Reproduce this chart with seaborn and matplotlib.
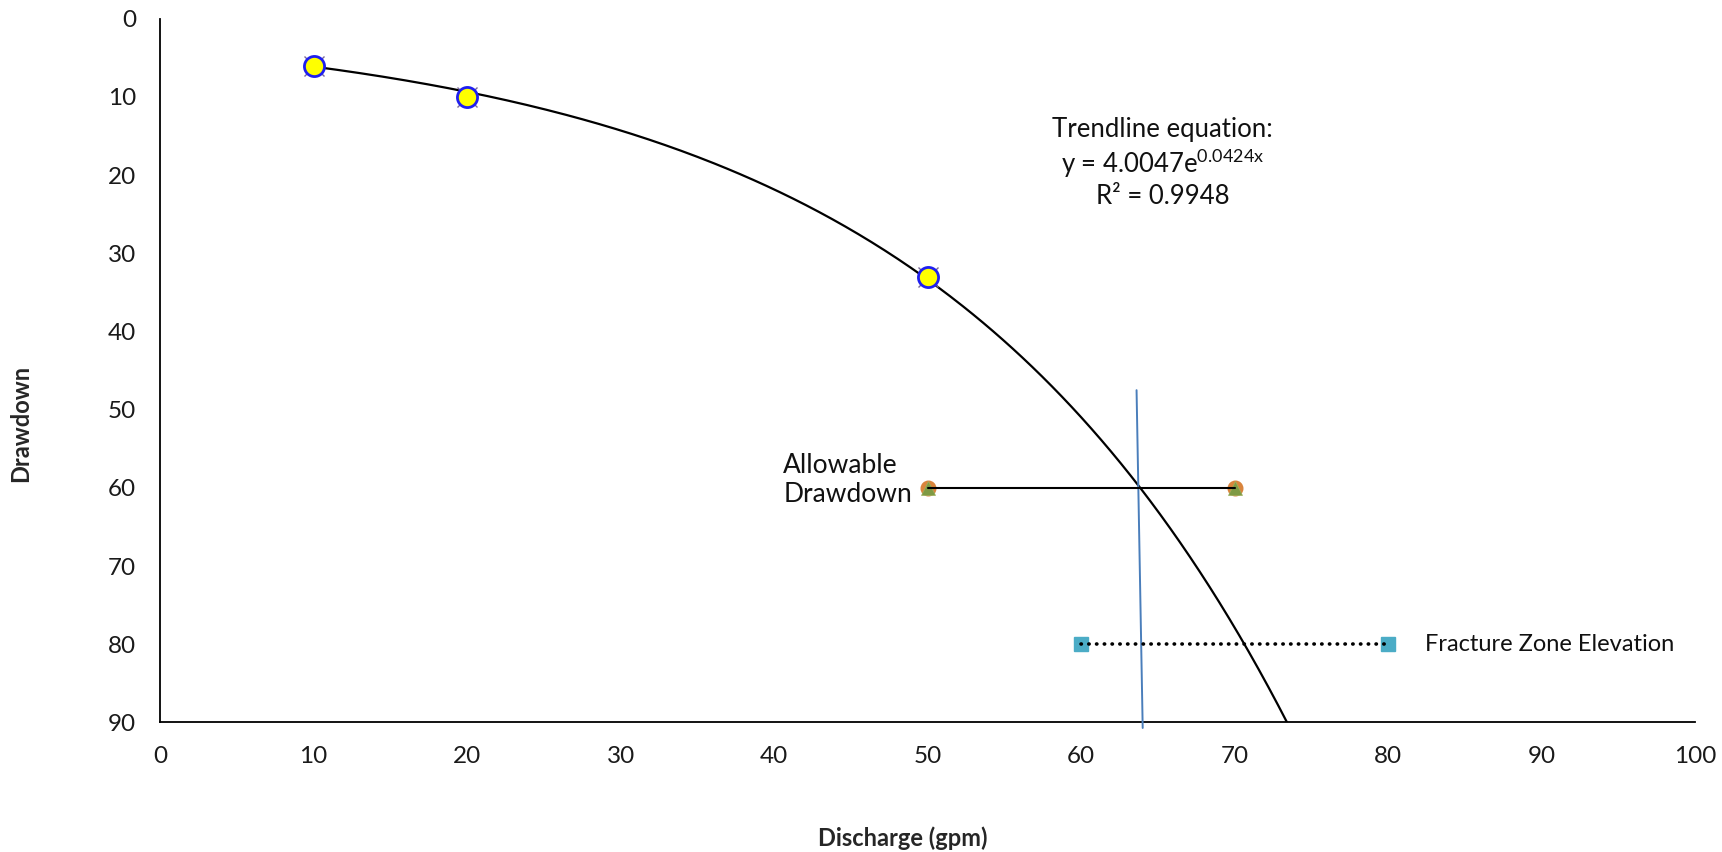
import numpy as np
import pandas as pd
import matplotlib
matplotlib.use("Agg")
import matplotlib.pyplot as plt
import seaborn as sns

# measured pumping test points
discharge = [10, 20, 50]
drawdown = [6, 10, 33]

# exponential trendline shown on the chart: y = a * e^(b x)
trend_a = 4.0047
trend_b = 0.0424

# allowable drawdown line
allow_x = [50, 70]
allow_y = [60, 60]

# fracture zone elevation line
frac_x = [60, 80]
frac_y = [80, 80]

# vertical line through intersection
vert_x = [63.6, 64.0]
vert_y = [47.5, 90.7]

x_ticks = list(range(0, 101, 10))
y_ticks = list(range(0, 91, 10))

sns.set_theme(style="white")
plt.rcParams["font.family"] = ["Lato", "DejaVu Sans"]
plt.rcParams["mathtext.fontset"] = "custom"
plt.rcParams["mathtext.rm"] = "Lato"
plt.rcParams["mathtext.it"] = "Lato"

fig = plt.figure(figsize=(17.22, 8.52), dpi=100)
ax = fig.add_axes([0.0929, 0.152, 0.8917, 0.826])

# trend curve
x_end = np.log(90 / trend_a) / trend_b + 0.5
tx = np.linspace(10, x_end, 300)
trend = pd.DataFrame({"x": tx, "y": trend_a * np.exp(trend_b * tx)})
sns.lineplot(data=trend, x="x", y="y", ax=ax, color="black", lw=1.6, sort=False)

# allowable drawdown
ax.plot(allow_x, allow_y, ls="none", marker="o", ms=10.5, color="#D9843C", zorder=4)
ax.plot(allow_x, allow_y, ls="none", marker="^", ms=10.5, color="#7E9A44",
        markeredgecolor="#9BB05E", markeredgewidth=0.5, zorder=5)
ax.plot(allow_x, allow_y, color="black", lw=1.5, zorder=6)

# fracture zone
ax.plot(frac_x, frac_y, ls="none", marker="s", ms=10, color="#4BACC6", zorder=4)
ax.plot(frac_x, frac_y, color="black", lw=2.6, ls=(0, (0.1, 2.05)),
        dash_capstyle="round", zorder=5)

# vertical line
ax.plot(vert_x, vert_y, color="#4A7EBB", lw=1.4, clip_on=False, zorder=3)

# data points
pts = pd.DataFrame({"Discharge": discharge, "Drawdown": drawdown})
ax.plot(discharge, drawdown, ls="none", marker="x", ms=14.5, mew=1,
        color="#7A6A9A", zorder=6)
sns.scatterplot(data=pts, x="Discharge", y="Drawdown", ax=ax, s=210,
                color="#FFFF00", edgecolor="#1F1FF0", linewidth=2, zorder=7)

ax.set_xlim(0, 100)
ax.set_ylim(90, 0)
ax.set_xticks(x_ticks)
ax.set_yticks(y_ticks)
ax.set_xlabel("")
ax.set_ylabel("")

for s in ["top", "right"]:
    ax.spines[s].set_visible(False)
for s in ["left", "bottom"]:
    ax.spines[s].set_color("black")
    ax.spines[s].set_linewidth(1.3)

ax.tick_params(axis="both", which="major", direction="out", length=6,
               width=1.2, color="#808080", labelsize=17.5, labelcolor="#1a1a1a")
ax.tick_params(axis="y", pad=11)
ax.tick_params(axis="x", pad=11)

ax.text(65.3, 18.4,
        "Trendline equation:\ny = 4.0047e$^{0.0424x}$\nR\u00b2 = 0.9948",
        ha="center", va="center", fontsize=18.5, linespacing=1.2, color="#111111")
ax.text(40.6, 59.0, "Allowable\nDrawdown", ha="left", va="center",
        fontsize=19, linespacing=1.22, color="#111111")
ax.text(82.4, 80, "Fracture Zone Elevation", ha="left", va="center",
        fontsize=17, color="#111111")

fig.text(0.524, 0.0164, "Discharge (gpm)", ha="center", va="center",
         fontsize=17, fontweight="bold")
fig.text(0.0122, 0.5035, "Drawdown", ha="center", va="center",
         rotation=90, fontsize=17, fontweight="bold")

fig.savefig("out.png", dpi=100)
